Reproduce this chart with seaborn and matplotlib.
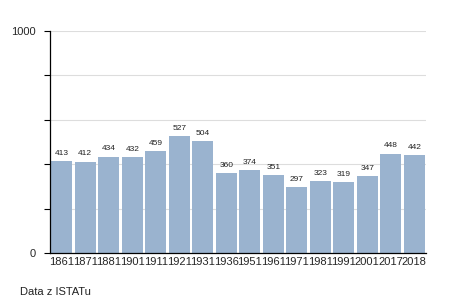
import matplotlib
matplotlib.use("Agg")
import matplotlib.pyplot as plt
import seaborn as sns
import pandas as pd

years = ["1861", "1871", "1881", "1901", "1911", "1921", "1931", "1936",
         "1951", "1961", "1971", "1981", "1991", "2001", "2017", "2018"]
population = [413, 412, 434, 432, 459, 527, 504, 360, 374, 351, 297, 323,
              319, 347, 448, 442]
y_ticks = [0, 200, 400, 600, 800, 1000]
y_tick_labels = ["0", "", "", "", "", "1000"]
source_text = "Data z ISTATu"

sns.set_theme(style="white")
plt.rcParams["font.family"] = ["Liberation Sans", "DejaVu Sans"]

df = pd.DataFrame({"year": years, "pop": population})

W, H = 455, 303
fig = plt.figure(figsize=(W / 100, H / 100), dpi=100)
ax = fig.add_axes([50 / W, (H - 253) / H, (426 - 50) / W, (253 - 31) / H])

sns.barplot(data=df, x="year", y="pop", color="#9ab3cf", saturation=1,
            width=0.9, ax=ax, zorder=2)
for p in ax.patches:
    p.set_edgecolor("none")

ax.set_xlim(-0.5, len(years) - 0.5)
ax.set_ylim(0, 1000)
ax.set_yticks(y_ticks)
ax.set_yticklabels(y_tick_labels)
ax.yaxis.grid(True, color="#dddddd", linewidth=0.8, zorder=0)
ax.set_axisbelow(True)
ax.set_xlabel("")
ax.set_ylabel("")

for s in ["top", "right"]:
    ax.spines[s].set_visible(False)
for s in ["left", "bottom"]:
    ax.spines[s].set_color("black")
    ax.spines[s].set_linewidth(0.9)

ax.tick_params(axis="y", length=4, width=0.8, color="black", pad=6,
               labelsize=8, left=True)
ax.tick_params(axis="x", length=0, pad=3, labelsize=8)

for i, v in enumerate(population):
    ax.annotate(str(v), (i, v), xytext=(0, 3), textcoords="offset points",
                ha="center", va="bottom", fontsize=6, color="#222222")

fig.text(20 / W, 1 - 292 / H, source_text, ha="left", va="center",
         fontsize=8, color="#222222")

fig.savefig("out.png", dpi=100)
